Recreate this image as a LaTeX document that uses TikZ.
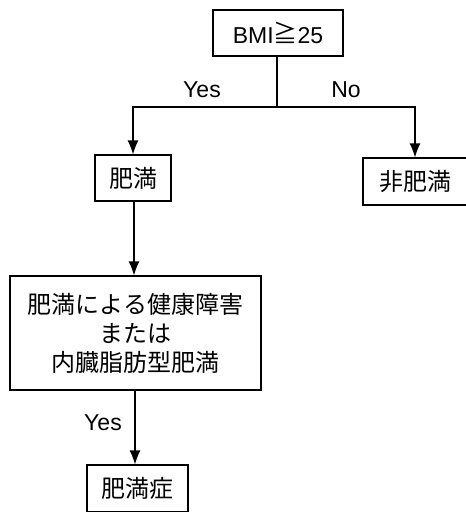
\documentclass[tikz,border=0pt]{standalone}
\usepackage{fontspec}
\setmainfont{Liberation Sans}
\newfontfamily\cjk{Noto Sans CJK JP}
\usetikzlibrary{arrows.meta}
\tikzset{
  boxnode/.style={draw, line width=1.2pt, inner sep=0pt, font=\cjk\fontsize{24}{29}\selectfont, align=center},
  lbl/.style={font=\fontsize{23}{26}\selectfont, inner sep=0pt},
  conn/.style={line width=1.2pt},
  arr/.style={conn, -{Latex[length=14pt,width=11pt]}}
}
\begin{document}
\begin{tikzpicture}[x=1pt,y=-1pt]
\useasboundingbox (0,0) rectangle (466,512);
\clip (0,0) rectangle (466,512);
\node[boxnode, minimum width=130pt, minimum height=46pt] (bmi) at (278,33) {{\fontsize{23}{26}\selectfont\rmfamily BMI}\raisebox{1pt}{≧}{\fontsize{23}{26}\selectfont\rmfamily 25}};
\coordinate (j) at (277,107);
\node[boxnode, minimum width=76pt, minimum height=46pt] (himan) at (133,178) {肥満};
\node[boxnode, minimum width=104pt, minimum height=47pt] (hihiman) at (415,181.5) {非肥満};
\node[boxnode, minimum width=251pt, minimum height=114pt] (cond) at (135.5,333) {肥満による健康障害\\または\\内臓脂肪型肥満};
\node[boxnode, minimum width=101pt, minimum height=47pt] (shou) at (137.5,488.5) {肥満症};
\draw[conn] (bmi.south -| j) -- (j);
\draw[arr] (j) -| (himan.north);
\draw[arr] (j) -| (hihiman.north);
\draw[arr] (himan.south -| cond.north) ++(-1.5,0) coordinate (a1) -- (a1 |- cond.north);
\draw[arr] (cond.south) ++(-0.5,0) coordinate (a2) -- (a2 |- shou.north);
\node[lbl] (yes1) at (202,90) {Yes};
\node[lbl] (no1) at (346,90) {No};
\node[lbl] (yes2) at (103,423) {Yes};
\end{tikzpicture}
\end{document}
